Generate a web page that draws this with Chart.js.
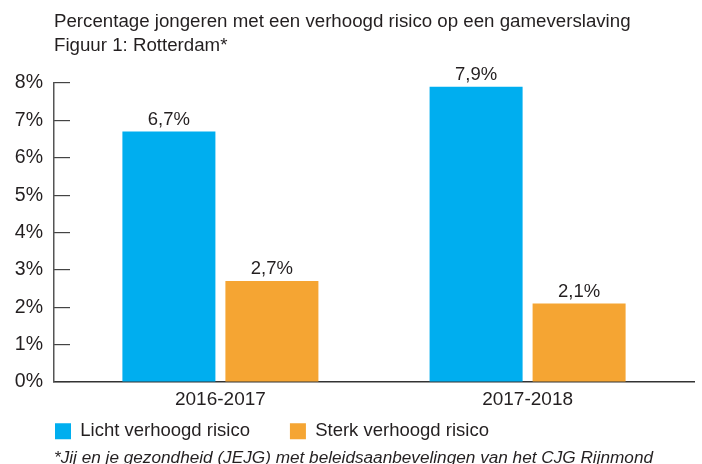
<!DOCTYPE html>
<html>
<head>
<meta charset="utf-8">
<script src="https://cdn.jsdelivr.net/npm/chart.js@4/dist/chart.umd.min.js"></script>
<style>
  html, body { margin: 0; padding: 0; background: #ffffff; }
  #wrap { width: 702px; height: 464px; position: relative; }
</style>
</head>
<body>
<div id="wrap"><canvas id="c" width="702" height="464"></canvas></div>
<script>
// ---- data ----
const categories = ['2016-2017', '2017-2018'];
const lichtVerhoogd = [6.7, 7.9];
const sterkVerhoogd = [2.7, 2.1];
const seriesNames = ['Licht verhoogd risico', 'Sterk verhoogd risico'];
const yTicks = [0, 1, 2, 3, 4, 5, 6, 7, 8];
const titleLines = ['Percentage jongeren met een verhoogd risico op een gameverslaving', 'Figuur 1: Rotterdam*'];
const footnote = '*Jij en je gezondheid (JEJG) met beleidsaanbevelingen van het CJG Rijnmond';

const FONT = "'Liberation Sans', Arial, Helvetica, sans-serif";
const TEXT = '#231f20';
const BLUE = '#00aeef';
const ORANGE = '#f5a533';

const fmt = v => v.toFixed(1).replace('.', ',') + '%';

// category scale with a little extra room at both ends
const BaseCat = Chart.CategoryScale || Chart.registry.getScale('category');
class PaddedCategoryScale extends BaseCat {
  buildTicks() {
    const ticks = super.buildTicks();
    const p = this.options.edgePad || 0;
    this._startValue -= p;
    this._valueRange += 2 * p;
    return ticks;
  }
}
PaddedCategoryScale.id = 'paddedCategory';
PaddedCategoryScale.defaults = BaseCat.defaults;
Chart.register(PaddedCategoryScale);

const valueLabels = {
  id: 'valueLabels',
  afterDatasetsDraw(chart) {
    const ctx = chart.ctx;
    ctx.save();
    ctx.font = '18.5px ' + FONT;
    ctx.fillStyle = TEXT;
    ctx.textAlign = 'center';
    ctx.textBaseline = 'alphabetic';
    chart.data.datasets.forEach((ds, di) => {
      const meta = chart.getDatasetMeta(di);
      meta.data.forEach((bar, i) => {
        ctx.fillText(fmt(ds.data[i]), bar.x, bar.y - 7);
      });
    });
    ctx.restore();
  }
};

new Chart(document.getElementById('c'), {
  type: 'bar',
  data: {
    labels: categories,
    datasets: [
      { label: seriesNames[0], data: lichtVerhoogd, backgroundColor: BLUE, borderWidth: 0 },
      { label: seriesNames[1], data: sterkVerhoogd, backgroundColor: ORANGE, borderWidth: 0 }
    ]
  },
  options: {
    responsive: false,
    animation: false,
    devicePixelRatio: 1,
    categoryPercentage: 0.6706,
    barPercentage: 0.903,
    layout: { padding: { left: 15, right: 8, top: 0, bottom: 0 } },
    plugins: {
      tooltip: { enabled: false },
      title: {
        display: true,
        text: titleLines,
        align: 'start',
        fullSize: false,
        color: TEXT,
        font: { family: FONT, size: 18.7, weight: 'normal', lineHeight: 24 / 18.7 },
        padding: { top: 9.5, bottom: 25.5 }
      },
      subtitle: {
        display: true,
        text: footnote,
        position: 'bottom',
        align: 'start',
        fullSize: false,
        color: TEXT,
        font: { family: FONT, size: 17.2, style: 'italic', weight: 'normal', lineHeight: 11.5 / 17.2 },
        padding: { top: 2, bottom: 0 }
      },
      legend: {
        display: true,
        position: 'bottom',
        align: 'start',
        labels: {
          boxWidth: 16,
          boxHeight: 16,
          padding: 40,
          color: TEXT,
          font: { family: FONT, size: 18.5 }
        }
      }
    },
    scales: {
      x: {
        type: 'paddedCategory',
        offset: true,
        edgePad: 0.0417,
        grid: { display: false, drawTicks: false, offset: true },
        border: { display: true, color: '#333333', width: 1.5 },
        ticks: { color: TEXT, font: { family: FONT, size: 19 }, mirror: true, padding: -29.5, maxRotation: 0, autoSkip: false },
        afterFit(scale) { scale.height = 0; }
      },
      y: {
        min: yTicks[0],
        max: yTicks[yTicks.length - 1],
        afterBuildTicks(scale) { scale.ticks = yTicks.map(v => ({ value: v })); },
        grid: { display: true, drawOnChartArea: false, drawTicks: true, tickLength: -16, color: '#444444', lineWidth: 1.2 },
        border: { display: true, color: '#555555', width: 1.5 },
        ticks: {
          color: TEXT,
          font: { family: FONT, size: 19.5 },
          padding: 27,
          callback: v => v + '%'
        },
        afterFit(scale) { scale.width = 39; }
      }
    }
  },
  plugins: [valueLabels]
});
</script>
</body>
</html>
